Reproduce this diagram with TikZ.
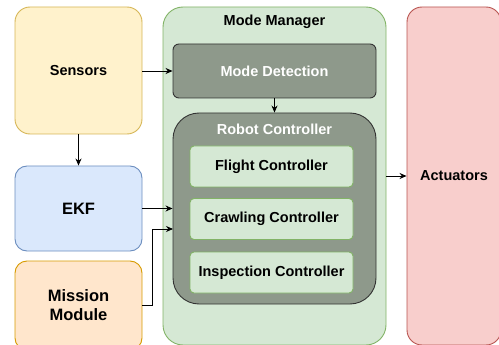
\documentclass[tikz,border=0pt]{standalone}
\usepackage{fontspec}
\setmainfont{Liberation Sans}
\usepackage{xcolor}
\usetikzlibrary{arrows.meta}

\definecolor{sensfill}{HTML}{FFF2CC}
\definecolor{sensline}{HTML}{D6B656}
\definecolor{ekffill}{HTML}{DAE8FC}
\definecolor{ekfline}{HTML}{6C8EBF}
\definecolor{misfill}{HTML}{FFE6CC}
\definecolor{misline}{HTML}{D79B00}
\definecolor{mgrfill}{HTML}{D5E8D4}
\definecolor{mgrline}{HTML}{82B366}
\definecolor{ctrlfill}{HTML}{8E998B}
\definecolor{ctrlline}{HTML}{333333}
\definecolor{actfill}{HTML}{F8CECC}
\definecolor{actline}{HTML}{B85450}

\begin{document}
\begin{tikzpicture}[x=1pt,y=-1pt,
  block/.style={draw, line width=0.9pt, font=\bfseries\fontsize{14.5}{17}\selectfont, align=center, inner sep=0pt},
  big/.style={font=\bfseries\fontsize{16.5}{19}\selectfont},
  ctrl/.style={block, fill=ctrlfill, draw=ctrlline, text=white},
  sub/.style={block, fill=mgrfill, draw=mgrline, rounded corners=4pt, minimum width=163pt, minimum height=41pt},
  link/.style={-{Stealth[length=7pt,width=6pt]}, line width=0.8pt}]
\useasboundingbox (0,0) rectangle (499,345);

\node[block, fill=sensfill, draw=sensline, rounded corners=15pt, minimum width=127pt, minimum height=127pt] (sensors) at (78.5,70.5) {Sensors};
\node[block, big, fill=ekffill, draw=ekfline, rounded corners=12pt, minimum width=127pt, minimum height=85pt] (ekf) at (78.5,208.5) {EKF};
\node[block, big, fill=misfill, draw=misline, rounded corners=12pt, minimum width=127pt, minimum height=89pt] (mission) at (78.5,305.5) {Mission\\Module};

\node[block, fill=mgrfill, draw=mgrline, rounded corners=20pt, minimum width=223pt, minimum height=338pt] (manager) at (274.5,176) {};
\node[font=\bfseries\fontsize{14.5}{17}\selectfont, inner sep=0pt] (mgrlabel) at (274.5,22) {Mode Manager};

\node[ctrl, rounded corners=6pt, minimum width=203pt, minimum height=54pt] (detect) at (274.5,71) {Mode Detection};
\node[ctrl, rounded corners=26pt, minimum width=203pt, minimum height=191pt] (robot) at (274.5,208.5) {};
\node[font=\bfseries\fontsize{14.5}{17}\selectfont, text=white, inner sep=0pt] (robotlabel) at (274.5,129) {Robot Controller};

\node[sub] (flight) at (271.5,166.5) {Flight Controller};
\node[sub] (crawl) at (271.5,219) {Crawling Controller};
\node[sub] (inspect) at (271.5,272.5) {Inspection Controller};

\node[block, fill=actfill, draw=actline, rounded corners=15pt, minimum width=94pt, minimum height=338pt] (act) at (454,176) {Actuators};

\coordinate (missionin) at (173,229);

\draw[link] (sensors.east |- detect.west) -- (detect.west);
\draw[link] (sensors.south) -- (ekf.north);
\draw[link] (detect.south) -- (robot.north);
\draw[link] (ekf.east) -- (robot.west);
\draw[link] (mission.east) -- ++(10,0) |- (missionin);
\draw[link] (manager.east) -- (act.west);
\end{tikzpicture}
\end{document}
